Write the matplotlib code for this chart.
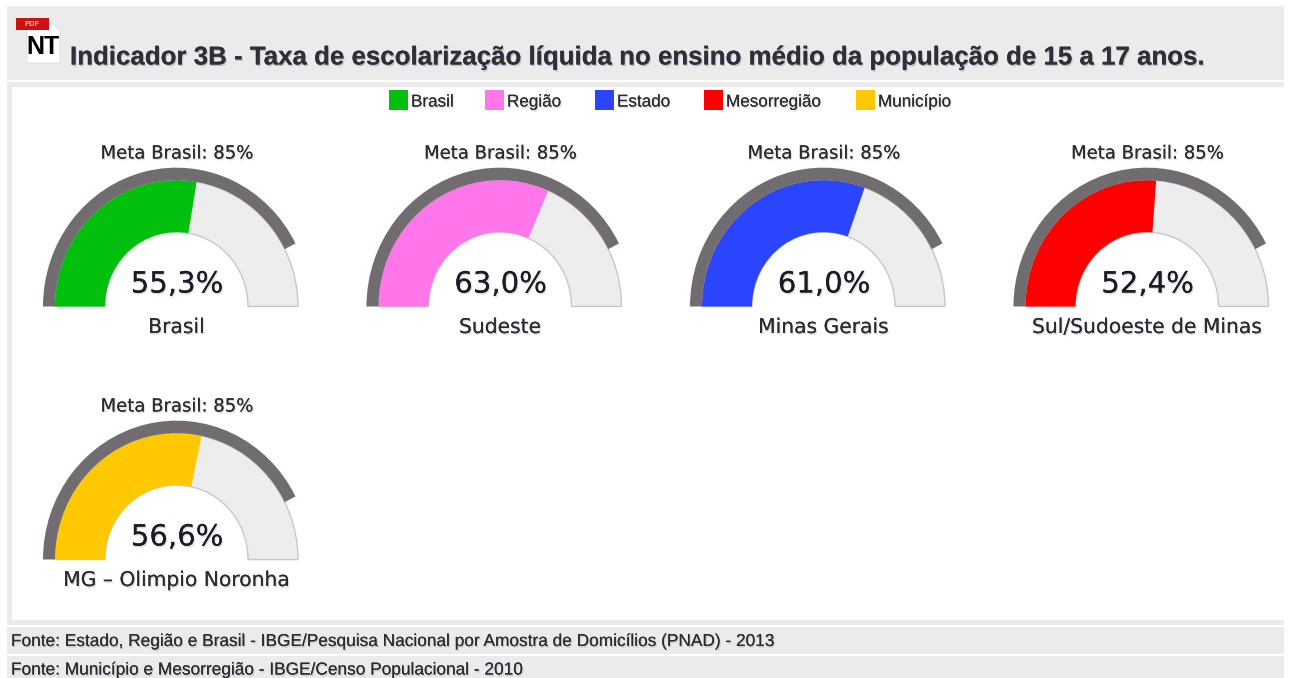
import matplotlib
matplotlib.use("Agg")
import matplotlib.pyplot as plt
from matplotlib.patches import Wedge, Rectangle, Polygon
from matplotlib.transforms import Affine2D
import matplotlib.patheffects as pe

TITLE = "Indicador 3B - Taxa de escolarização líquida no ensino médio da população de 15 a 17 anos."
LEGEND_LABELS = ["Brasil", "Região", "Estado", "Mesorregião", "Município"]
LEGEND_COLORS = ["#00c00d", "#ff75ea", "#2b45ff", "#ff0000", "#ffc800"]
GAUGE_NAMES = ["Brasil", "Sudeste", "Minas Gerais", "Sul/Sudoeste de Minas", "MG - Olimpio Noronha"]
GAUGE_VALUES = [55.3, 63.0, 61.0, 52.4, 56.6]
GAUGE_COLORS = ["#00c00d", "#ff75ea", "#2b45ff", "#ff0000", "#ffc800"]
GOAL = 85
SOURCES = ["Fonte: Estado, Região e Brasil - IBGE/Pesquisa Nacional por Amostra de Domicílios (PNAD) - 2013",
           "Fonte: Município e Mesorregião - IBGE/Censo Populacional - 2010"]

W, H = 1289, 678
fig = plt.figure(figsize=(W / 100, H / 100), dpi=100, facecolor="white")
ax = fig.add_axes([0, 0, 1, 1])
ax.set_xlim(0, W)
ax.set_ylim(H, 0)
ax.axis("off")

PANEL = "#ebebeb"
INK = "#2b2b33"
def shadow(a=0.22):
    return [pe.withSimplePatchShadow(offset=(0.8, -1.2), shadow_rgbFace="#666666", alpha=a), pe.Normal()]

def rect(x0, y0, x1, y1, color, z=1, **kw):
    ax.add_patch(Rectangle((x0, y0), x1 - x0, y1 - y0, facecolor=color, edgecolor="none", zorder=z, **kw))

# page panels
rect(7, 6, 1284, 80, PANEL)
rect(7, 82, 1284, 625, PANEL)
rect(12, 87, 1284, 620, "white", z=2)
rect(7, 627, 1284, 654, PANEL)
rect(7, 656, 1284, 678, PANEL)

# PDF / NT icon
ax.add_patch(Polygon([(27, 24), (54, 24), (60, 31), (60, 63), (27, 63)], closed=True,
                     facecolor="white", edgecolor="#dddddd", lw=0.6, zorder=3))
rect(16, 18, 49, 30, "#cc1111", z=4)
ax.text(32, 24.5, "PDF", color="#f5c0c0", fontsize=5.5, fontweight="bold", ha="center", va="center",
        family="Liberation Sans", zorder=5)
ax.text(43, 46.5, "NT", color="black", fontsize=18, fontweight="bold", ha="center", va="center",
        family="Liberation Sans", zorder=5)

# title
ax.text(70, 57.5, TITLE, color="#2f2f3a", fontsize=18.64, fontweight="bold", ha="left", va="center",
        family="Liberation Sans", zorder=5, path_effects=shadow(0.3))

# legend
LEG_X = [389, 485, 595, 704, 856]
for x, lab, col in zip(LEG_X, LEGEND_LABELS, LEGEND_COLORS):
    rect(x, 90, x + 19, 110, col, z=3)
    ax.text(x + 22, 102, lab, color=INK, fontsize=12.3, ha="left", va="center",
            family="Liberation Sans", zorder=5, path_effects=shadow())

# gauges
CENTERS = [(176.5, 306.5), (500, 306.5), (823.5, 306.5), (1147, 306.5), (176.5, 559.5)]
R_OUT, R_IN, R_GOAL = 121.5, 71.5, 133.5
STRETCH = 1.04

def theta(v):
    return 180 + 180 * v / 100

for (cx, cy), name, val, col in zip(CENTERS, GAUGE_NAMES, GAUGE_VALUES, GAUGE_COLORS):
    tr = Affine2D().scale(1, STRETCH).translate(cx, cy) + ax.transData
    ax.add_patch(Wedge((0, 0), R_OUT, 180, 360, width=R_OUT - R_IN, facecolor="#ededed",
                       edgecolor="#c8c8c8", lw=1, zorder=3, transform=tr))
    ax.add_patch(Wedge((0, 0), R_OUT, 180, theta(val), width=R_OUT - R_IN, facecolor=col,
                       edgecolor="none", zorder=4, transform=tr))
    ax.add_patch(Wedge((0, 0), R_GOAL, 180, theta(GOAL), width=R_GOAL - R_OUT, facecolor="#716c70",
                       edgecolor="none", zorder=4, transform=tr))
    ax.text(cx + 0.5, cy - 153, f"Meta Brasil: {GOAL}%", color=INK, fontsize=13, ha="center", va="center",
            family="DejaVu Sans", zorder=5, path_effects=shadow())
    ax.text(cx + 0.5, cy - 22, f"{val:.1f}%".replace(".", ","), color="#1c1c28", fontsize=21, ha="center",
            va="center", family="DejaVu Sans", zorder=5, path_effects=shadow())
    ax.text(cx, cy + 21, name.replace("-", "–"), color=INK, fontsize=14.6, ha="center", va="center",
            family="DejaVu Sans", zorder=5, path_effects=shadow())

# sources
for y, s in zip([641.5, 670], SOURCES):
    ax.text(11, y, s, color=INK, fontsize=12.44, ha="left", va="center",
            family="Liberation Sans", zorder=5, path_effects=shadow())

fig.savefig("out.png", dpi=100)
